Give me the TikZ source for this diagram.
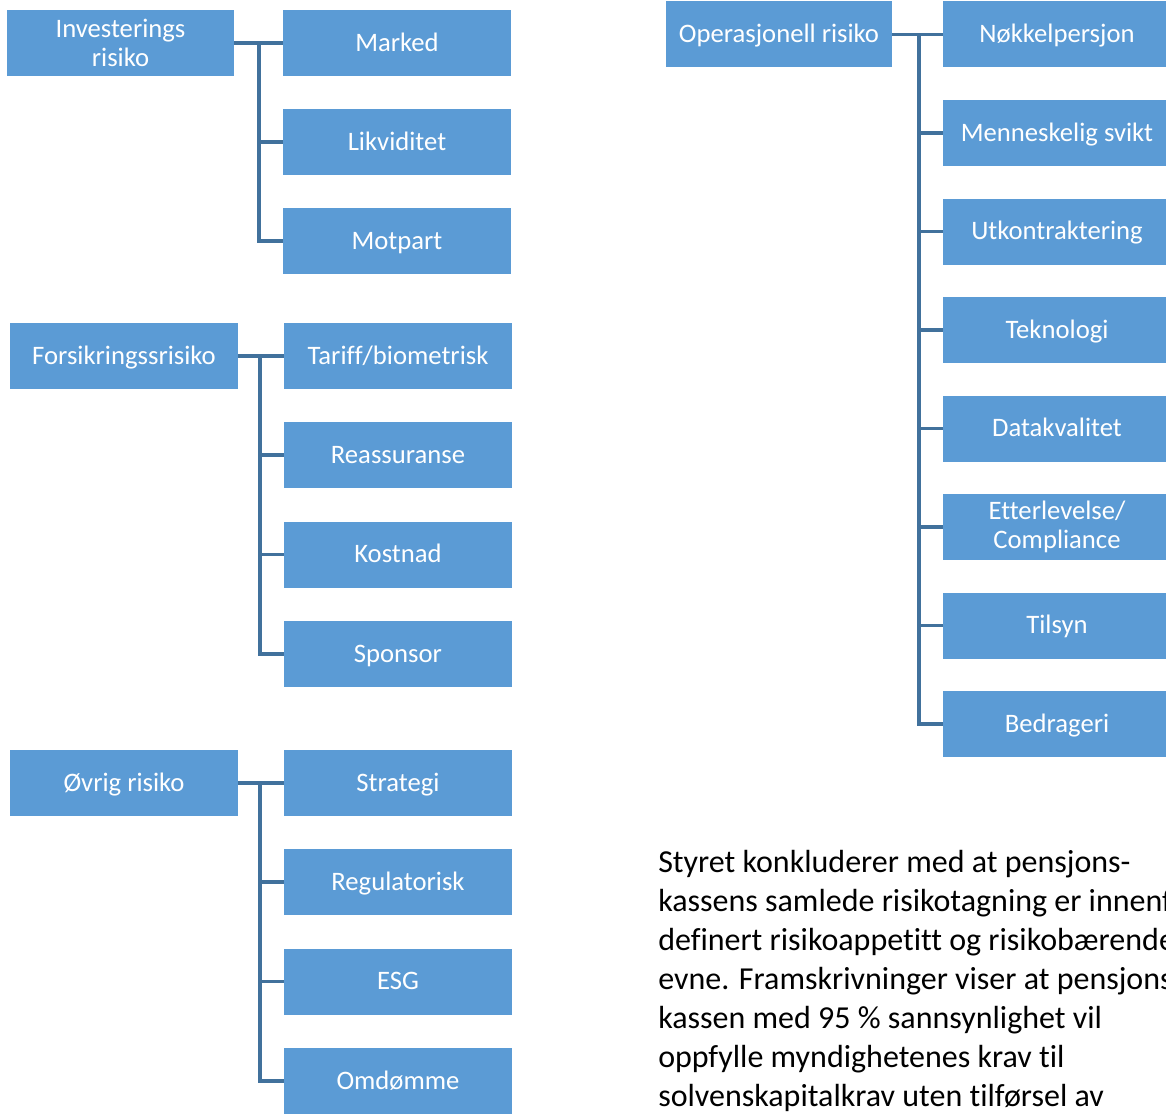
\documentclass[tikz,border=0pt]{standalone}
\usepackage{fontspec}
\setmainfont{Carlito}[Ligatures={NoCommon}]
\definecolor{boxblue}{HTML}{5B9BD5}
\definecolor{linecol}{HTML}{41719C}
\begin{document}
\begin{tikzpicture}[x=0.75pt,y=-0.75pt,
  box/.style={fill=boxblue, text=white, inner sep=0pt, minimum height=49.5pt, minimum width=171pt, align=center, font=\fontsize{20}{22}\selectfont},
  sbox/.style={box, text height=15pt, text depth=3pt},
  conn/.style={draw=linecol, line width=2.3pt},
  para/.style={anchor=base west, inner sep=0pt, font=\fontsize{24}{29}\selectfont}]
\clip (0,0) rectangle (1166,1113);
\useasboundingbox (0,0) rectangle (1166,1113);
% group 1
\node[box, minimum width=170.25pt] (inv) at (120.5,43) {Investerings\\risiko};
\node[sbox] (mar) at (397,43) {Marked};
\node[sbox] (lik) at (397,142) {Likviditet};
\node[sbox] (mot) at (397,241) {Motpart};
\coordinate (b1) at (259,43);
\draw[conn] (inv.east) -- (mar.west);
\draw[conn] (b1) |- (lik.west);
\draw[conn] (b1) |- (mot.west);
% group 2
\node[sbox] (for) at (124,356) {Forsikringssrisiko};
\node[sbox] (tar) at (398,356) {Tariff/biometrisk};
\node[sbox] (rea) at (398,455) {Reassuranse};
\node[sbox] (kos) at (398,554.5) {Kostnad};
\node[sbox] (spo) at (398,654) {Sponsor};
\coordinate (b2) at (260,356);
\draw[conn] (for.east) -- (tar.west);
\draw[conn] (b2) |- (rea.west);
\draw[conn] (b2) |- (kos.west);
\draw[conn] (b2) |- (spo.west);
% group 3
\node[sbox] (ovr) at (124,783) {Øvrig risiko};
\node[sbox] (str) at (398,783) {Strategi};
\node[sbox] (reg) at (398,882) {Regulatorisk};
\node[sbox] (esg) at (398,981.5) {ESG};
\node[sbox] (omd) at (398,1081) {Omdømme};
\coordinate (b3) at (260,783);
\draw[conn] (ovr.east) -- (str.west);
\draw[conn] (b3) |- (reg.west);
\draw[conn] (b3) |- (esg.west);
\draw[conn] (b3) |- (omd.west);
% right group
\node[sbox, minimum width=169.5pt] (ope) at (779,34.5) {Operasjonell risiko};
\node[sbox] (nok) at (1057,34.5) {Nøkkelpersjon};
\node[sbox] (men) at (1057,133) {Menneskelig svikt};
\node[sbox] (utk) at (1057,231.5) {Utkontraktering};
\node[sbox] (tek) at (1057,330) {Teknologi};
\node[sbox] (dat) at (1057,428.5) {Datakvalitet};
\node[box] (ett) at (1057,527) {Etterlevelse/\\Compliance};
\node[sbox] (til) at (1057,625.5) {Tilsyn};
\node[sbox] (bed) at (1057,724) {Bedrageri};
\coordinate (b4) at (919,34.5);
\draw[conn] (ope.east) -- (nok.west);
\foreach \n in {men,utk,tek,dat,ett,til,bed} \draw[conn] (b4) |- (\n.west);
% paragraph
\node[para] (l1) at (658,872) {Styret konkluderer med at pensjons-};
\node[para] (l2) at (658,911) {kassens samlede risikotagning er innenfor};
\node[para] (l3) at (658,950) {definert risikoappetitt og risikobærende};
\node[para] (l4) at (658,989) {evne. Framskrivninger viser at pensjons-};
\node[para] (l5) at (658,1028) {kassen med 95 \% sannsynlighet vil};
\node[para] (l6) at (658,1067) {oppfylle myndighetenes krav til};
\node[para] (l7) at (658,1106) {solvenskapitalkrav uten tilførsel av};
\end{tikzpicture}
\end{document}
